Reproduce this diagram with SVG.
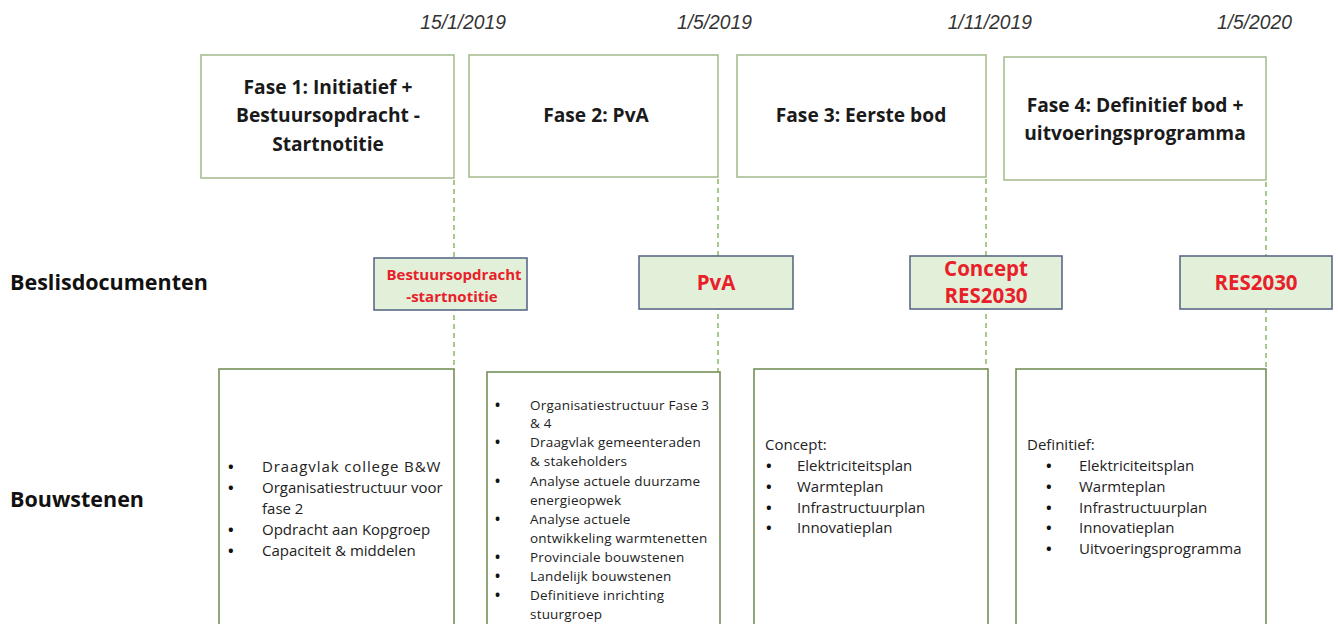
<svg xmlns="http://www.w3.org/2000/svg" width="1338" height="624" viewBox="0 0 1338 624">
<style>
.date{font-family:"Liberation Sans",Arial,sans-serif;font-style:italic;font-size:19.3px;fill:#333333;text-anchor:end}
.phase{fill:#ffffff;stroke:#a3b98a;stroke-width:1.5}
.ptxt{font-family:"Open Sans","Liberation Sans",sans-serif;font-weight:bold;font-size:19.2px;fill:#1a1a1a;text-anchor:middle}
.doc{fill:#e2efd9;stroke:#5a6a88;stroke-width:1.6}
.dtxt{font-family:"Open Sans","Liberation Sans",sans-serif;font-weight:bold;fill:#e8202a;text-anchor:middle}
.row{font-family:"Open Sans","Liberation Sans",sans-serif;font-weight:bold;font-size:21.5px;fill:#111111}
.blk{fill:#ffffff;stroke:#768f5a;stroke-width:1.6}
.btxt{font-family:"Open Sans","Liberation Sans",sans-serif;font-size:15px;fill:#222222}
.btxt2{font-family:"Open Sans","Liberation Sans",sans-serif;font-size:13.5px;fill:#222222;letter-spacing:0.2px}
.bul{font-weight:bold;fill:#111111}
.dash{stroke:#a9c98c;stroke-width:2;stroke-dasharray:5 4;fill:none}
</style>

<g id="dates">
<text class="date" x="506" y="29">15/1/2019</text>
<text class="date" x="752" y="29">1/5/2019</text>
<text class="date" x="1032" y="29">1/11/2019</text>
<text class="date" x="1292" y="29">1/5/2020</text>
</g>

<g id="connectors">
<line class="dash" x1="454" y1="180" x2="454" y2="370"/>
<line class="dash" x1="718" y1="179" x2="718" y2="372"/>
<line class="dash" x1="986" y1="179" x2="986" y2="369"/>
<line class="dash" x1="1266" y1="182" x2="1266" y2="369"/>
</g>

<g id="fase1">
<rect class="phase" x="201" y="55" width="253" height="123"/>
<text class="ptxt" x="328" y="94">Fase 1: Initiatief +</text>
<text class="ptxt" x="328" y="122">Bestuursopdracht -</text>
<text class="ptxt" x="328" y="151">Startnotitie</text>
</g>
<g id="fase2">
<rect class="phase" x="469" y="55" width="249" height="122"/>
<text class="ptxt" x="596" y="122">Fase 2: PvA</text>
</g>
<g id="fase3">
<rect class="phase" x="737" y="55" width="249" height="122"/>
<text class="ptxt" x="861" y="122">Fase 3: Eerste bod</text>
</g>
<g id="fase4">
<rect class="phase" x="1004" y="57" width="262" height="123"/>
<text class="ptxt" x="1135" y="112">Fase 4: Definitief bod +</text>
<text class="ptxt" x="1135" y="140">uitvoeringsprogramma</text>
</g>

<g id="label-beslis"><text class="row" x="10" y="290">Beslisdocumenten</text></g>
<g id="label-bouw"><text class="row" x="10" y="507">Bouwstenen</text></g>

<g id="doc1">
<rect class="doc" x="374" y="258" width="153" height="52"/>
<text class="dtxt" x="454" y="280" font-size="15">Bestuursopdracht</text>
<text class="dtxt" x="452" y="302" font-size="15">-startnotitie</text>
</g>
<g id="doc2">
<rect class="doc" x="639" y="256" width="154" height="53"/>
<text class="dtxt" x="716" y="290" font-size="20.5">PvA</text>
</g>
<g id="doc3">
<rect class="doc" x="910" y="256" width="152" height="53"/>
<text class="dtxt" x="986" y="276" font-size="20.5">Concept</text>
<text class="dtxt" x="986" y="303" font-size="20.5">RES2030</text>
</g>
<g id="doc4">
<rect class="doc" x="1180" y="256" width="152" height="53"/>
<text class="dtxt" x="1256" y="290" font-size="20.5">RES2030</text>
</g>

<g id="bouw1">
<rect class="blk" x="219" y="369" width="235" height="260"/>
<g class="btxt">
<text class="bul" x="228" y="472">•</text><text x="262" y="472" letter-spacing="0.9">Draagvlak college B&amp;W</text>
<text class="bul" x="228" y="493">•</text><text x="262" y="493">Organisatiestructuur voor</text>
<text x="262" y="514">fase 2</text>
<text class="bul" x="228" y="535">•</text><text x="262" y="535">Opdracht aan Kopgroep</text>
<text class="bul" x="228" y="556">•</text><text x="262" y="556">Capaciteit &amp; middelen</text>
</g>
</g>

<g id="bouw2">
<rect class="blk" x="487" y="372" width="233" height="260"/>
<g class="btxt2">
<text class="bul" x="495" y="410">•</text><text x="530" y="410">Organisatiestructuur Fase 3</text>
<text x="530" y="428">&amp; 4</text>
<text class="bul" x="495" y="447">•</text><text x="530" y="447">Draagvlak gemeenteraden</text>
<text x="530" y="466">&amp; stakeholders</text>
<text class="bul" x="495" y="486">•</text><text x="530" y="486">Analyse actuele duurzame</text>
<text x="530" y="505">energieopwek</text>
<text class="bul" x="495" y="524">•</text><text x="530" y="524">Analyse actuele</text>
<text x="530" y="543">ontwikkeling warmtenetten</text>
<text class="bul" x="495" y="562">•</text><text x="530" y="562">Provinciale bouwstenen</text>
<text class="bul" x="495" y="581">•</text><text x="530" y="581">Landelijk bouwstenen</text>
<text class="bul" x="495" y="600">•</text><text x="530" y="600">Definitieve inrichting</text>
<text x="530" y="619">stuurgroep</text>
</g>
</g>

<g id="bouw3">
<rect class="blk" x="754" y="369" width="234" height="260"/>
<g class="btxt">
<text x="765" y="450">Concept:</text>
<text class="bul" x="766" y="471">•</text><text x="797" y="471">Elektriciteitsplan</text>
<text class="bul" x="766" y="492">•</text><text x="797" y="492">Warmteplan</text>
<text class="bul" x="766" y="513">•</text><text x="797" y="513">Infrastructuurplan</text>
<text class="bul" x="766" y="533">•</text><text x="797" y="533">Innovatieplan</text>
</g>
</g>

<g id="bouw4">
<rect class="blk" x="1016" y="369" width="250" height="260"/>
<g class="btxt">
<text x="1027" y="450">Definitief:</text>
<text class="bul" x="1046" y="471">•</text><text x="1079" y="471">Elektriciteitsplan</text>
<text class="bul" x="1046" y="492">•</text><text x="1079" y="492">Warmteplan</text>
<text class="bul" x="1046" y="513">•</text><text x="1079" y="513">Infrastructuurplan</text>
<text class="bul" x="1046" y="533">•</text><text x="1079" y="533">Innovatieplan</text>
<text class="bul" x="1046" y="554">•</text><text x="1079" y="554">Uitvoeringsprogramma</text>
</g>
</g>
</svg>
